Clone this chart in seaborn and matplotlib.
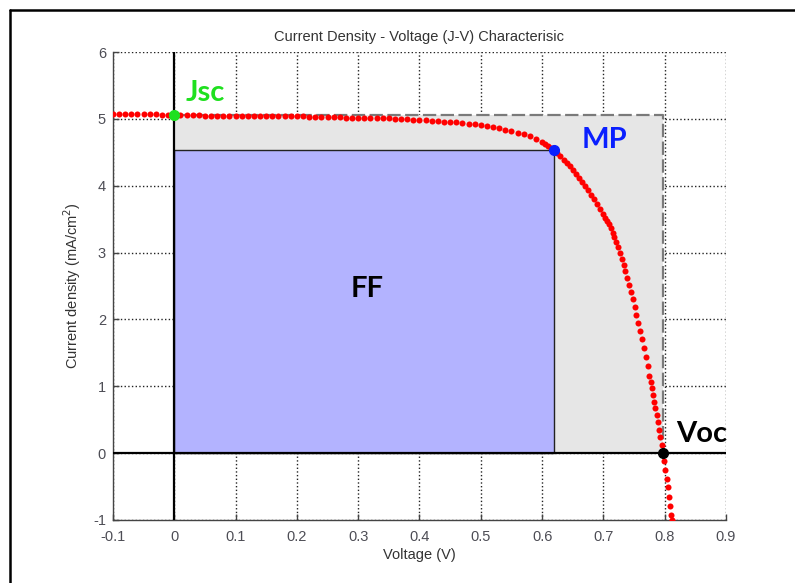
import matplotlib
matplotlib.use("Agg")
import numpy as np
import pandas as pd
import seaborn as sns
import matplotlib.pyplot as plt
from matplotlib.patches import Rectangle
from matplotlib.lines import Line2D

# J-V points (V in volts, J in mA/cm^2)
voltage = [
    -0.10, -0.09, -0.08, -0.07, -0.06, -0.05, -0.04, -0.03, -0.02, -0.01,
    0.00, 0.01, 0.02, 0.03, 0.04, 0.05, 0.06, 0.07, 0.08, 0.09,
    0.10, 0.11, 0.12, 0.13, 0.14, 0.15, 0.16, 0.17, 0.18, 0.19,
    0.20, 0.21, 0.22, 0.23, 0.24, 0.25, 0.26, 0.27, 0.28, 0.29,
    0.30, 0.31, 0.32, 0.33, 0.34, 0.35, 0.36, 0.37, 0.38, 0.39,
    0.40, 0.41, 0.42, 0.43, 0.44, 0.45, 0.46, 0.47, 0.48, 0.49,
    0.50, 0.51, 0.52, 0.53, 0.54, 0.55, 0.56, 0.57, 0.58, 0.59,
    0.600, 0.605, 0.610, 0.615, 0.620, 0.625, 0.630, 0.635, 0.640, 0.645,
    0.650, 0.655, 0.660, 0.665, 0.670, 0.675, 0.680, 0.685, 0.690, 0.695,
    0.700, 0.703, 0.706, 0.709, 0.712, 0.715, 0.718, 0.721, 0.724, 0.727,
    0.730, 0.733, 0.736, 0.739, 0.742, 0.745, 0.748, 0.751, 0.754, 0.757,
    0.760, 0.763, 0.766, 0.769, 0.772, 0.775, 0.777, 0.779, 0.781, 0.783,
    0.785, 0.787, 0.789, 0.791, 0.793, 0.795, 0.797, 0.799, 0.801, 0.803,
    0.805, 0.807, 0.809, 0.811, 0.812,
]
current = [
    5.08, 5.08, 5.08, 5.07, 5.07, 5.07, 5.07, 5.07, 5.06, 5.06,
    5.06, 5.06, 5.06, 5.06, 5.06, 5.05, 5.05, 5.05, 5.05, 5.05,
    5.05, 5.05, 5.05, 5.05, 5.04, 5.04, 5.04, 5.04, 5.04, 5.04,
    5.04, 5.04, 5.03, 5.03, 5.03, 5.03, 5.03, 5.03, 5.02, 5.02,
    5.02, 5.02, 5.02, 5.01, 5.01, 5.01, 5.00, 5.00, 5.00, 4.99,
    4.99, 4.98, 4.97, 4.97, 4.96, 4.95, 4.95, 4.94, 4.93, 4.92,
    4.91, 4.90, 4.88, 4.86, 4.84, 4.82, 4.79, 4.77, 4.74, 4.70,
    4.66, 4.63, 4.60, 4.56, 4.53, 4.49, 4.44, 4.39, 4.34, 4.29,
    4.23, 4.18, 4.12, 4.06, 4.00, 3.93, 3.86, 3.80, 3.73, 3.65,
    3.57, 3.52, 3.47, 3.42, 3.36, 3.30, 3.23, 3.16, 3.08, 3.00,
    2.91, 2.82, 2.72, 2.62, 2.52, 2.41, 2.30, 2.19, 2.07, 1.95,
    1.83, 1.70, 1.57, 1.44, 1.30, 1.16, 1.07, 0.97, 0.87, 0.77,
    0.67, 0.57, 0.46, 0.35, 0.24, 0.12, 0.00, -0.12, -0.25, -0.38,
    -0.51, -0.65, -0.79, -0.93, -1.00,
]

jsc = 5.06
voc = 0.797
vmp = 0.62
jmp = 4.53

xticks = [-0.1, 0, 0.1, 0.2, 0.3, 0.4, 0.5, 0.6, 0.7, 0.8, 0.9]
xticklabels = ["-0.1", "0", "0.1", "0.2", "0.3", "0.4", "0.5", "0.6", "0.7", "0.8", "0.9"]
yticks = [-1, 0, 1, 2, 3, 4, 5, 6]
yticklabels = ["-1", "0", "1", "2", "3", "4", "5", "6"]

sns.set_theme(style="white")
plt.rcParams['font.family'] = ['Liberation Sans', 'DejaVu Sans']

df = pd.DataFrame({"V": voltage, "J": current})

fig = plt.figure(figsize=(7.95, 5.83), dpi=100)
ax = fig.add_axes([0.1421, 0.1081, 0.7711, 0.8027])

# rectangles: ideal (Jsc*Voc) and max power
ax.add_patch(Rectangle((0, 0), voc, jsc, facecolor='#e6e6e6', edgecolor='none', zorder=1))
ax.plot([0, voc, voc], [jsc, jsc, 0], color='#7a7a7a', lw=1.6, ls=(0, (6, 2)), zorder=1.5)
ax.add_patch(Rectangle((0, 0), vmp, jmp, facecolor='#b3b3ff', edgecolor='#222222', lw=1, zorder=2))

ax.axhline(0, color='black', lw=1.6, zorder=3)
ax.axvline(0, color='black', lw=1.6, zorder=3)

sns.scatterplot(data=df, x="V", y="J", color='red', s=19, linewidth=0, ax=ax, zorder=4)

ax.plot([0], [jsc], 'o', color='#1fe01f', ms=7, zorder=5)
ax.plot([vmp], [jmp], 'o', color='#0a1fff', ms=7, zorder=5)
ax.plot([voc], [0], 'o', color='black', ms=7, zorder=5)

lbl = dict(fontsize=21, fontweight='bold', family='Lato')
ax.text(0.019, 5.27, 'Jsc', color='#1fe01f', **lbl)
ax.text(0.665, 4.57, 'MP', color='#0a1fff', **lbl)
ax.text(0.818, 0.17, 'Voc', color='black', **lbl)
ax.text(0.288, 2.33, 'FF', color='black', **lbl)

ax.set_xlim(-0.1, 0.9)
ax.set_ylim(-1, 6)
ax.set_xticks(xticks)
ax.set_xticklabels(xticklabels)
ax.set_yticks(yticks)
ax.set_yticklabels(yticklabels)
ax.grid(True, ls=':', color='#222222', lw=1)
ax.set_axisbelow(True)

for s in ['top', 'right']:
    ax.spines[s].set_visible(False)
for s in ['left', 'bottom']:
    ax.spines[s].set_color('#444444')
    ax.spines[s].set_linewidth(1)
ax.tick_params(direction='in', length=4, width=1, color='#444444', labelcolor='#4d4d55',
               labelsize=10.5, left=True, bottom=True)
ax.tick_params(axis='x', pad=7)
ax.tick_params(axis='y', pad=5)

ax.set_title('Current Density - Voltage (J-V) Characterisic', fontsize=10.5, color='#333333', pad=8)
ax.set_xlabel('Voltage (V)', fontsize=10.5, color='#333333', labelpad=3)
ax.set_ylabel('Current density (mA/cm$^2$)', fontsize=10.5, color='#333333', labelpad=7)

# frame of the original screenshot
fig.add_artist(Line2D([10 / 795, 1], [1 - 10 / 583, 1 - 10 / 583], color='black', lw=1.8,
                      transform=fig.transFigure))
fig.add_artist(Line2D([10 / 795, 10 / 795], [0, 1 - 10 / 583], color='black', lw=1.8,
                      transform=fig.transFigure))

fig.savefig('out.png', dpi=100)
